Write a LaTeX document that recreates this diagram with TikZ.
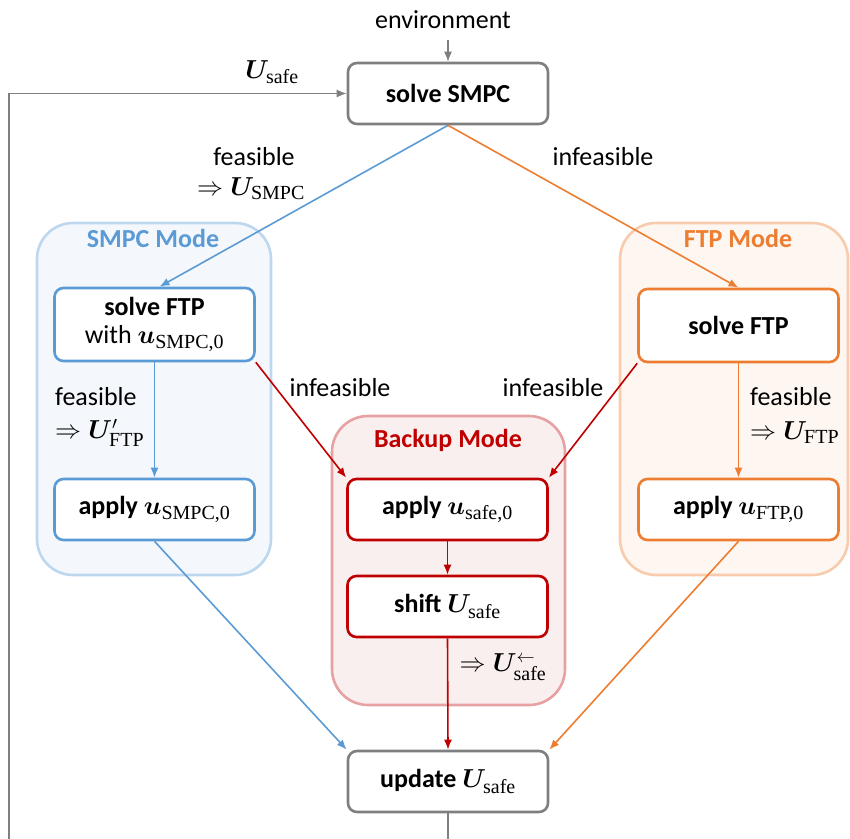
\RequirePackage{fix-cm}
\documentclass[tikz,border=0pt]{standalone}
\usepackage{amsmath}
\usepackage{bm}
\usepackage[no-math]{fontspec}
\setmainfont{Carlito}
\newfontfamily\subfont{Liberation Serif}
\usetikzlibrary{arrows.meta}
\definecolor{cblue}{HTML}{5B9BD5}
\definecolor{corange}{HTML}{ED7D31}
\definecolor{cred}{HTML}{C00000}
\definecolor{cgray}{HTML}{7F7F7F}
\definecolor{gblueF}{HTML}{F4F8FC}
\definecolor{gblueD}{HTML}{BDD7EE}
\definecolor{gorangeF}{HTML}{FDF6F1}
\definecolor{gorangeD}{HTML}{F8CBAD}
\definecolor{gredF}{HTML}{FAEFEF}
\definecolor{gredD}{HTML}{E6A1A3}
\tikzset{
  box/.style={draw, rounded corners=9pt, line width=2.6pt, fill=white,
    minimum width=200pt, minimum height=61pt, align=center, inner sep=2pt},
  grp/.style={draw, rounded corners=36pt, line width=2.6pt, inner sep=0pt},
  conn/.style={line width=1.6pt, -{Latex[length=10pt,width=8pt]}},
  lbl/.style={inner sep=0pt},
  ttl/.style={inner sep=0pt, font=\fontsize{26}{31}\selectfont\bfseries}
}
\newcommand{\sbs}[1]{\mbox{\subfont\mdseries\upshape\fontsize{20}{21}\selectfont #1}}
\newcommand{\Usafe}{\bm{U}_{\sbs{safe}}}
\begin{document}
\begin{tikzpicture}[x=1pt,y=-1pt,font=\fontsize{26}{31}\selectfont]
\clip (0,0) rectangle (850,838);
% containers
\node[grp, fill=gblueF, draw=gblueD, minimum width=234pt, minimum height=352pt] (gsmpc) at (154,399) {};
\node[grp, fill=gorangeF, draw=gorangeD, minimum width=228pt, minimum height=352pt] (gftp) at (734,399) {};
\node[grp, fill=gredF, draw=gredD, minimum width=233pt, minimum height=289pt] (gbak) at (448.5,560.5) {};
\node[ttl, text=cblue] (tsmpc) at (153,238) {SMPC Mode};
\node[ttl, text=corange] (tftp) at (738,238) {FTP Mode};
\node[ttl, text=cred] (tbak) at (448,440) {Backup Mode};
% boxes
\node[box, draw=cgray] (smpc) at (448,93.5) {\textbf{solve SMPC}};
\node[box, draw=cblue, minimum height=73pt] (ftp1) at (154.5,324.5) {\textbf{solve FTP}\\[-3pt]with $\bm{u}_{\sbs{SMPC,0}}$};
\node[box, draw=cblue] (app1) at (154.5,509.5) {\textbf{apply} $\bm{u}_{\sbs{SMPC,0}}$};
\node[box, draw=corange, minimum height=73pt] (ftp2) at (738.5,325.5) {\textbf{solve FTP}};
\node[box, draw=corange] (app2) at (738.5,509.5) {\textbf{apply} $\bm{u}_{\sbs{FTP,0}}$};
\node[box, draw=cred] (apps) at (447.5,509.5) {\textbf{apply} $\bm{u}_{\sbs{safe,0}}$};
\node[box, draw=cred] (shift) at (447.5,606.5) {\textbf{shift} $\Usafe$};
\node[box, draw=cgray] (upd) at (448,781.5) {\textbf{update} $\Usafe$};
% labels
\node[lbl] (env) at (443,20) {environment};
\coordinate (envb) at (448,40);
\node[lbl] (lus) at (272,72) {$\Usafe$};
\node[lbl] (lf1a) at (254,157) {feasible};
\node[lbl] (lf1b) at (251,189) {$\Rightarrow\bm{U}_{\sbs{SMPC}}$};
\node[lbl] (li1) at (603,157) {infeasible};
\node[lbl] (li2) at (340,388) {infeasible};
\node[lbl] (li3) at (553,388) {infeasible};
\node[lbl, anchor=west] (lf2a) at (55,397) {feasible};
\node[lbl, anchor=west] (lf2b) at (55,433) {$\Rightarrow\bm{U}'_{\sbs{FTP}}$};
\node[lbl, anchor=west] (lf3a) at (750,397) {feasible};
\node[lbl, anchor=west] (lf3b) at (750,433) {$\Rightarrow\bm{U}_{\sbs{FTP}}$};
\node[lbl] (lsh) at (503,667) {$\Rightarrow\bm{U}^{\leftarrow}_{\sbs{safe}}$};
% connectors
\draw[conn, cgray, line width=1.3pt] (envb) -- (smpc.north);
\draw[conn, cblue] (smpc.south) -- ([xshift=5pt]ftp1.north);
\draw[conn, corange] (smpc.south) -- (ftp2.north);
\draw[conn, cblue] (ftp1.south) -- (app1.north);
\draw[conn, corange] (ftp2.south) -- (app2.north);
\draw[conn, cred] (ftp1.south east) -- (apps.north west);
\draw[conn, cred] (ftp2.south west) -- (apps.north east);
\draw[conn, cred] (apps.south) -- (shift.north);
\draw[conn, cred] (shift.south) -- (upd.north);
\draw[conn, cblue] (app1.south) -- (upd.north west);
\draw[conn, corange] (app2.south) -- (upd.north east);
\coordinate (lp) at (9,93.5);
\draw[conn, cgray, line width=1.5pt] (upd.south) -- ++(0,60) -| (lp) -- (smpc.west);
\end{tikzpicture}
\end{document}
